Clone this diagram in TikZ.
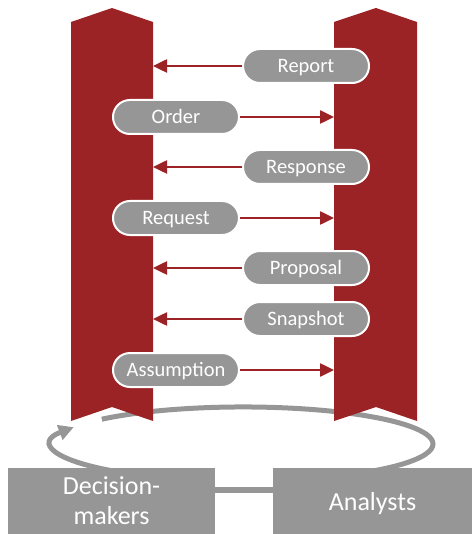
\documentclass[tikz,border=0pt]{standalone}
\usepackage{fontspec}
\setmainfont{Carlito}
\usetikzlibrary{arrows.meta}
\definecolor{barred}{RGB}{155,35,38}
\definecolor{pillgray}{RGB}{150,150,150}

\begin{document}
\begin{tikzpicture}[x=1pt, y=-1pt,
    pill/.style={draw=white, line width=2pt, fill=pillgray, rectangle, rounded corners=17pt, minimum width=126pt, minimum height=34pt, inner sep=0pt, text height=13.2pt, text depth=0pt, text=white, font=\fontsize{20.5}{24}\selectfont},
    actor/.style={fill=pillgray, rectangle, minimum height=66pt, inner sep=0pt, text=white, align=center, font=\fontsize{26}{30}\selectfont},
    flow/.style={draw=barred, line width=2.5pt, -{Triangle[length=14pt,width=13pt]}},
    cycleline/.style={draw=pillgray, line width=5pt}]

    \useasboundingbox (0,0) rectangle (472,534);

    % Kreislauf hinter den Balken
    \draw[cycleline, -{Triangle[length=15pt,width=15pt]}] (120.9,472.3)
        arc[start angle=130, end angle=207, x radius=190, y radius=37];
    \draw[cycleline] (101.8,419.2)
        arc[start angle=222, end angle=410, x radius=190, y radius=37];

    % Balken
    \fill[barred] (71,22) -- (112,8) -- (153,22) -- (153,421) -- (112,407) -- (71,421) -- cycle;
    \fill[barred] (334,22) -- (376,8) -- (417,22) -- (417,421) -- (376,407) -- (334,421) -- cycle;
    \coordinate (dbar) at (153,240);
    \coordinate (abar) at (334,240);

    % Nachrichten
    \node[pill] (report) at (306,66) {Report};
    \node[pill] (order) at (176,117) {Order};
    \node[pill] (response) at (306,167) {Response};
    \node[pill] (request) at (176,218) {Request};
    \node[pill] (proposal) at (306,268) {Proposal};
    \node[pill] (snapshot) at (306,319) {Snapshot};
    \node[pill] (assumption) at (176,370) {Assumption};

    % Pfeile
    \draw[flow] (report) -- (report -| dbar);
    \draw[flow] (order) -- (order -| abar);
    \draw[flow] (response) -- (response -| dbar);
    \draw[flow] (request) -- (request -| abar);
    \draw[flow] (proposal) -- (proposal -| dbar);
    \draw[flow] (snapshot) -- (snapshot -| dbar);
    \draw[flow] (assumption) -- (assumption -| abar);

    % Akteure
    \node[actor, minimum width=207pt] (dm) at (111.5,501) {Decision-\\makers};
    \node[actor, minimum width=199pt, text depth=0pt] (an) at (372.5,501) {Analysts};
    \draw[pillgray, line width=6pt] ([yshift=11pt]dm.east) -- ([yshift=11pt]an.west);
\end{tikzpicture}
\end{document}
